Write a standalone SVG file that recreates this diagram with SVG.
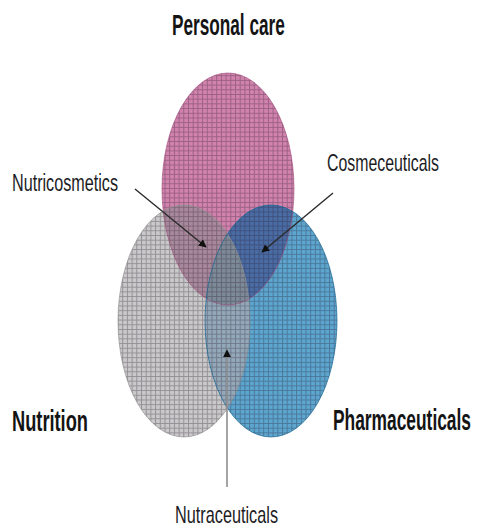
<svg xmlns="http://www.w3.org/2000/svg" width="478" height="528" viewBox="0 0 478 528">
  <defs>
    <style>
      .title { font-family: "Liberation Sans", Arial, sans-serif; font-weight: bold; font-size: 29px; fill: #141414; }
      .label { font-family: "Liberation Sans", Arial, sans-serif; font-size: 24px; fill: #1c1c24; }
      .lead { fill: none; stroke: #2a2a2a; stroke-width: 1.4; }
      .lead-gray { fill: none; stroke: #8e8e8e; stroke-width: 1.6; }
    </style>
    <!-- fine hatching grid laid over the circles -->
    <pattern id="grid" width="4.7" height="4.7" patternUnits="userSpaceOnUse">
      <path d="M0 0.5H4.7M0.5 0V4.7" stroke="#2a1a30" stroke-opacity="0.32" stroke-width="1"/>
    </pattern>
    <marker id="tip" viewBox="0 0 10 10" refX="9" refY="5" markerWidth="8" markerHeight="8" markerUnits="userSpaceOnUse" orient="auto">
      <path d="M0 0L10 5L0 10Z" fill="#111"/>
    </marker>
    <ellipse id="e-care" cx="228" cy="189" rx="66" ry="116"/>
    <ellipse id="e-nutr" cx="184" cy="321" rx="66" ry="116"/>
    <ellipse id="e-pharm" cx="271" cy="321" rx="66" ry="116"/>
    <clipPath id="c-care"><use href="#e-care"/></clipPath>
    <clipPath id="c-nutr"><use href="#e-nutr"/></clipPath>
    <clipPath id="c-all">
      <use href="#e-care"/><use href="#e-nutr"/><use href="#e-pharm"/>
    </clipPath>
  </defs>

  <rect width="478" height="528" fill="#ffffff"/>

  <!-- sets (labels use a narrowed sans face) -->
  <g id="personal-care">
    <use href="#e-care" fill="#d283ad"/>
    <text class="title" transform="translate(172 35) scale(0.6 1)" textLength="188" lengthAdjust="spacingAndGlyphs">Personal care</text>
  </g>
  <g id="nutrition">
    <use href="#e-nutr" fill="#c9c9c9"/>
    <text class="title" transform="translate(12 431) scale(0.63 1)" textLength="120.6" lengthAdjust="spacingAndGlyphs">Nutrition</text>
  </g>
  <g id="pharmaceuticals">
    <use href="#e-pharm" fill="#5ca6cf"/>
    <text class="title" transform="translate(333 430) scale(0.6 1)" textLength="230" lengthAdjust="spacingAndGlyphs">Pharmaceuticals</text>
  </g>

  <!-- intersections -->
  <g id="nutricosmetics">
    <use href="#e-nutr" fill="#a8899b" clip-path="url(#c-care)"/>
    <text class="label" transform="translate(12 191) scale(0.675 1)" textLength="157" lengthAdjust="spacingAndGlyphs">Nutricosmetics</text>
  </g>
  <g id="cosmeceuticals">
    <use href="#e-pharm" fill="#4a6ca4" clip-path="url(#c-care)"/>
    <text class="label" transform="translate(327 171) scale(0.66 1)" textLength="169.7" lengthAdjust="spacingAndGlyphs">Cosmeceuticals</text>
  </g>
  <g id="nutraceuticals">
    <use href="#e-pharm" fill="#93a9ba" clip-path="url(#c-nutr)"/>
    <g clip-path="url(#c-care)">
      <use href="#e-pharm" fill="#7d8a98" clip-path="url(#c-nutr)"/>
    </g>
    <text class="label" transform="translate(175 523) scale(0.68 1)" textLength="151.5" lengthAdjust="spacingAndGlyphs">Nutraceuticals</text>
  </g>

  <!-- grid texture and outlines -->
  <g id="texture">
    <rect x="100" y="60" width="250" height="390" fill="url(#grid)" clip-path="url(#c-all)"/>
    <use href="#e-care" fill="none" stroke="#9c4a78" stroke-opacity="0.6" stroke-width="1"/>
    <use href="#e-nutr" fill="none" stroke="#8a8a8a" stroke-opacity="0.6" stroke-width="1"/>
    <use href="#e-pharm" fill="none" stroke="#1c6690" stroke-opacity="0.7" stroke-width="1"/>
  </g>

  <!-- leader lines -->
  <g id="connectors">
    <line class="lead" x1="135" y1="189" x2="206" y2="247" marker-end="url(#tip)"/>
    <line class="lead" x1="333" y1="193" x2="262" y2="252" marker-end="url(#tip)"/>
    <line class="lead-gray" x1="227" y1="487" x2="227" y2="350" marker-end="url(#tip)"/>
  </g>
</svg>
